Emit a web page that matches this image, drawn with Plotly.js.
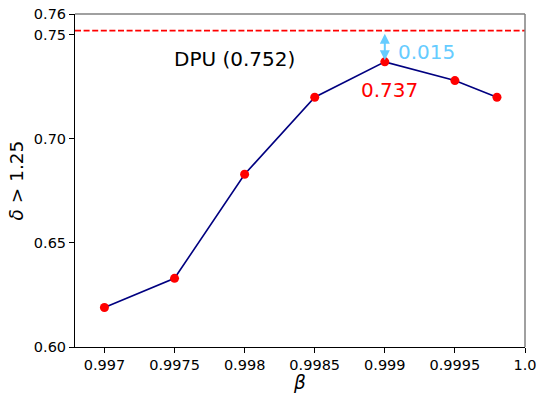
<!DOCTYPE html>
<html>
<head>
<meta charset="utf-8">
<script src="https://cdn.plot.ly/plotly-3.0.1.min.js"></script>
<style>html,body{margin:0;padding:0;background:#fff;}#chart{width:538px;height:393px;}</style>
</head>
<body>
<div id="chart"></div>
<script>
const beta = [0.997, 0.9975, 0.998, 0.9985, 0.999, 0.9995, 0.9998];
const delta = [0.619, 0.633, 0.683, 0.720, 0.737, 0.728, 0.720];
const dpuValue = 0.752;
const bestValue = 0.737;
const gapLabel = "0.015";
const xTickVals = [0.997, 0.9975, 0.998, 0.9985, 0.999, 0.9995, 1.0];
const xTickText = ["0.997", "0.9975", "0.998", "0.9985", "0.999", "0.9995", "1.0"];
const yTickVals = [0.60, 0.65, 0.70, 0.75, 0.76];
const yTickText = ["0.60", "0.65", "0.70", "0.75", "0.76"];

const fam = "DejaVu Sans";

const trace = {
  x: beta, y: delta, type: "scatter", mode: "lines+markers",
  line: {color: "#000080", width: 1.6},
  marker: {color: "#ff0000", size: 9},
  hoverinfo: "skip"
};

const layout = {
  width: 538, height: 393,
  margin: {l: 75, r: 13, t: 14, b: 46},
  paper_bgcolor: "#fff", plot_bgcolor: "#fff",
  font: {family: fam, size: 14.5, color: "#000"},
  showlegend: false,
  xaxis: {
    range: [0.99679, 1.0],
    tickvals: xTickVals, ticktext: xTickText,
    ticks: "outside", ticklen: 5, tickwidth: 1, tickcolor: "#000",
    showline: true, linecolor: "#000", linewidth: 1,
    showgrid: false, zeroline: false,
    tickfont: {family: fam, size: 14.5, color: "#000"},
    title: {text: "<i>β</i>", font: {family: fam, size: 18.5, color: "#000"}, standoff: 4}
  },
  yaxis: {
    range: [0.60, 0.76],
    tickvals: yTickVals, ticktext: yTickText,
    ticks: "outside", ticklen: 5, tickwidth: 1, tickcolor: "#000",
    showline: true, linecolor: "#000", linewidth: 1,
    showgrid: false, zeroline: false,
    tickfont: {family: fam, size: 14.5, color: "#000"},
    title: {text: "<i>δ</i> > 1.25", font: {family: fam, size: 18.5, color: "#000"}, standoff: 5}
  },
  shapes: [
    {type: "line", xref: "paper", yref: "y", x0: 0, x1: 1, y0: dpuValue, y1: dpuValue,
     line: {color: "#ff0000", width: 1.6, dash: "6px,2.6px"}},
    {type: "line", xref: "paper", yref: "paper", x0: 0, x1: 1, y0: 1, y1: 1,
     line: {color: "#808080", width: 1.5}},
    {type: "line", xref: "paper", yref: "paper", x0: 1, x1: 1, y0: 0, y1: 1,
     line: {color: "#808080", width: 1.5}}
  ],
  annotations: [
    {x: 0.999, y: bestValue + 0.0008, ax: 0.999, ay: dpuValue - 0.0008, xref: "x", yref: "y",
     axref: "x", ayref: "y", showarrow: true, arrowside: "end+start", arrowhead: 2,
     arrowsize: 1, arrowwidth: 2, arrowcolor: "#66ccff", text: ""},
    {x: 0.99930, y: 0.7418, xref: "x", yref: "y", text: gapLabel, showarrow: false,
     xanchor: "center", yanchor: "middle",
     font: {family: fam, size: 20, color: "#66ccff"}},
    {x: 0.99903, y: 0.7234, xref: "x", yref: "y", text: bestValue.toFixed(3), showarrow: false,
     xanchor: "center", yanchor: "middle",
     font: {family: fam, size: 20, color: "#ff0000"}},
    {x: 0.99793, y: 0.7383, xref: "x", yref: "y", text: "DPU (" + dpuValue.toFixed(3) + ")", showarrow: false,
     xanchor: "center", yanchor: "middle",
     font: {family: fam, size: 20, color: "#000"}}
  ]
};

Plotly.newPlot("chart", [trace], layout, {staticPlot: true, displayModeBar: false});
</script>
</body>
</html>
